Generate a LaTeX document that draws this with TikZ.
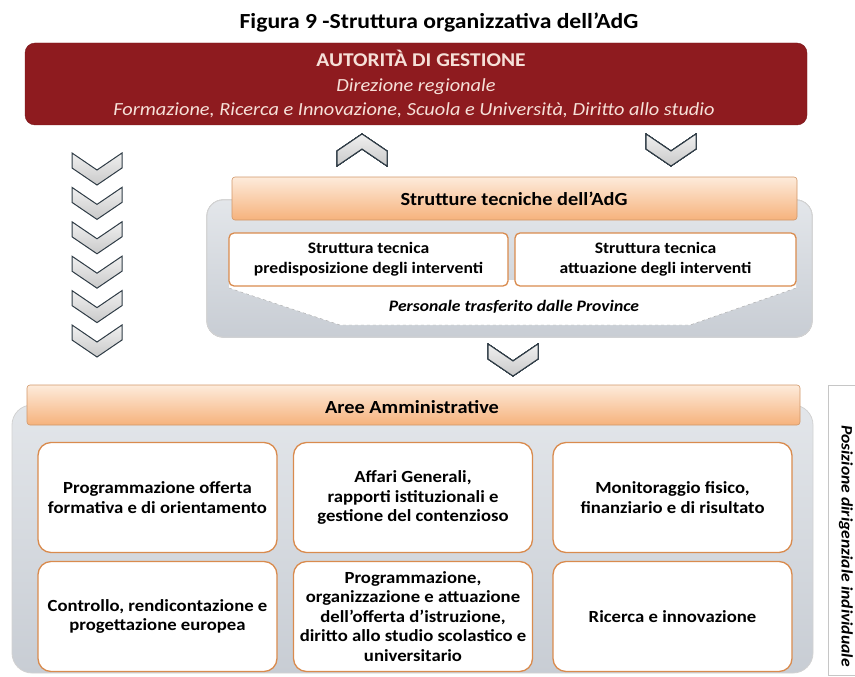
\documentclass[tikz,border=0pt]{standalone}
\usepackage{fontspec}
\setmainfont{Carlito}[FakeStretch=1.1]
\definecolor{adgred}{HTML}{8E1B1F}
\definecolor{adgtext}{HTML}{F6E0D8}
\definecolor{peach}{HTML}{FDEBDB}
\definecolor{orng}{HTML}{F6B27C}
\definecolor{boxline}{HTML}{D98B4E}
\definecolor{paneltop}{HTML}{E3E6EA}
\definecolor{panelbot}{HTML}{C8CDD4}
\definecolor{chevline}{HTML}{2E3B45}
\tikzset{
  chev/.style={draw=chevline, line width=1pt, line join=miter, top color=gray!12, bottom color=gray!42},
  panel/.style={draw=gray!35, line width=0.8pt, top color=paneltop, bottom color=panelbot, rounded corners=16},
  bar/.style={draw=orng!85!black, line width=0.6pt, top color=peach, bottom color=orng, rounded corners=3},
  tbox/.style={draw=boxline, line width=1.3pt, fill=white, rounded corners=5, inner sep=0pt, align=center, font=\bfseries\fontsize{16}{20}\selectfont},
  abox/.style={draw=boxline, line width=1.3pt, fill=white, rounded corners=13, inner sep=0pt, align=center, font=\bfseries\fontsize{17}{19.5}\selectfont, minimum width=239, minimum height=110},
  redtxt/.style={text=adgtext, inner sep=0pt, anchor=base}
}
\newcommand{\chevdn}[2]{\draw[chev] (#1,#2) -- ++(25,17) -- ++(25,-17) -- ++(0,15) -- ++(-25,17) -- ++(-25,-17) -- cycle;}
\newcommand{\chevup}[2]{\draw[chev] (#1,#2+17) -- ++(25,-17) -- ++(25,17) -- ++(0,15) -- ++(-25,-17) -- ++(-25,17) -- cycle;}
\begin{document}
\begin{tikzpicture}[x=1pt,y=-1pt]
  \useasboundingbox (0,0) rectangle (855,677);
  % title
  \node[font=\bfseries\fontsize{21.5}{24}\selectfont, anchor=base, inner sep=0pt] (title) at (439,29) {Figura 9 -Struttura organizzativa dell’AdG};
  % autorita di gestione
  \draw[fill=adgred, draw=adgred!85!black, rounded corners=10] (25,43) rectangle (807,125);
  \node[redtxt, font=\bfseries\fontsize{19.5}{22}\selectfont] (adg) at (421,67) {AUTORITÀ DI GESTIONE};
  \node[redtxt, font=\itshape\fontsize{18.5}{20}\selectfont] (dir) at (416,92) {Direzione regionale};
  \node[redtxt, font=\itshape\fontsize{18.5}{20}\selectfont] (form) at (414,116) {Formazione, Ricerca e Innovazione, Scuola e Università, Diritto allo studio};
  % chevrons
  \foreach \i in {0,...,5}
    \chevdn{72}{153+34.4*\i}
  \chevup{337}{134}
  \chevdn{646}{134}
  \chevdn{488}{344}
  % strutture tecniche
  \draw[panel] (207,200) rectangle (812,337);
  \draw[bar] (232,177) rectangle (797,220);
  \node[font=\bfseries\fontsize{18.5}{20}\selectfont, anchor=base, inner sep=0pt] (st) at (514,205) {Strutture tecniche dell’AdG};
  \fill[white] (229,280) -- (796,280) -- (796,288) -- (690,325) -- (340,325) -- (229,288) -- cycle;
  \draw[dashed, gray!70] (229,288) -- (340,325) -- (690,325) -- (796,288);
  \node[tbox, minimum width=279, minimum height=53] (stpred) at (368.5,259.5) {Struttura tecnica\\predisposizione degli interventi};
  \node[tbox, minimum width=281, minimum height=53] (statt) at (655.5,259.5) {Struttura tecnica\\attuazione degli interventi};
  \node[font=\bfseries\itshape\fontsize{16}{18}\selectfont, anchor=base, inner sep=0pt] (pers) at (514,311) {Personale trasferito dalle Province};
  % aree amministrative
  \draw[panel, rounded corners=20] (12,405) rectangle (813,673);
  \draw[bar] (27,385) rectangle (800,425);
  \node[font=\bfseries\fontsize{18.5}{20}\selectfont, anchor=base, inner sep=0pt] (aree) at (412,413) {Aree Amministrative};
  \node[abox] (progoff) at (157.5,497.5) {Programmazione offerta\\formativa e di orientamento};
  \node[abox] (affari) at (413,497.5) {Affari Generali,\\rapporti istituzionali e\\gestione del contenzioso};
  \node[abox] (monit) at (672.5,497.5) {Monitoraggio fisico,\\finanziario e di risultato};
  \node[abox] (contr) at (157.5,616.5) {Controllo, rendicontazione e\\progettazione europea};
  \node[abox] (istr) at (413,616.5) {Programmazione,\\organizzazione e attuazione\\dell’offerta d’istruzione,\\diritto allo studio scolastico e\\universitario};
  \node[abox] (ricerca) at (672.5,616.5) {Ricerca e innovazione};
  % posizione dirigenziale
  \draw[gray!45, line width=0.8pt] (828,385) rectangle (870,675);
  \node[rotate=-90, font=\bfseries\itshape\fontsize{16}{18}\selectfont] (posiz) at (846,546) {Posizione dirigenziale individuale};
\end{tikzpicture}
\end{document}
